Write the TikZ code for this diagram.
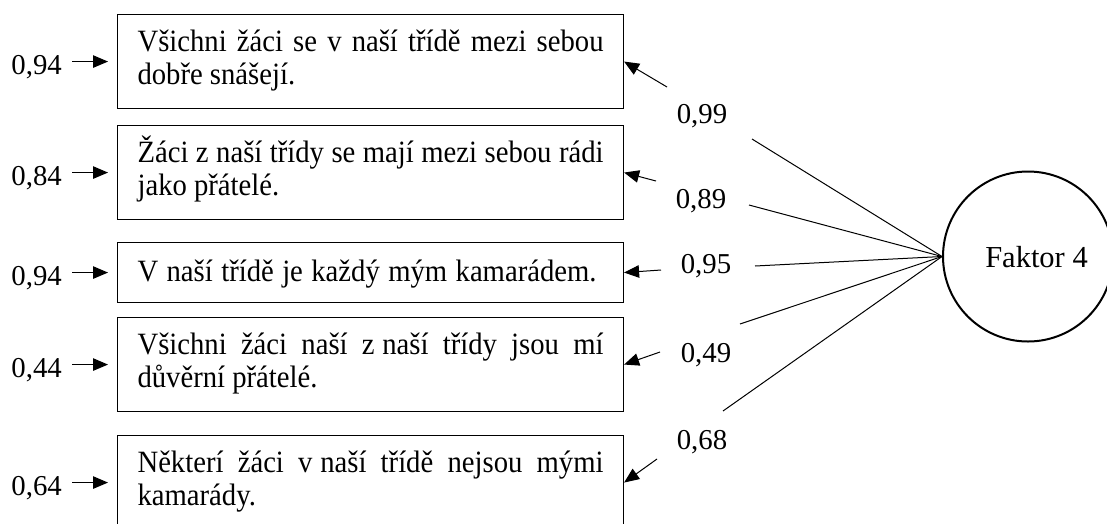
\documentclass[tikz,border=0pt]{standalone}
\usepackage{fontspec}
\setmainfont{Liberation Serif}
\newfontfamily\itemfont[FakeStretch=0.925]{Liberation Serif}
\usetikzlibrary{arrows.meta}
% a line whose word spaces are spread to the given width
\newcommand\spreadline[2][466pt]{\makebox[#1][s]{#2}}

\begin{document}
\begin{tikzpicture}[x=1pt, y=-1pt,
  every node/.style={font=\fontsize{28.8}{33}\selectfont},
  itembox/.style={draw, line width=1.1pt, anchor=north west, inner ysep=0pt,
    inner xsep=20pt, text width=466pt, minimum height=94pt, align=justify,
    font=\itemfont\fontsize{31}{33}\selectfont, text height=20pt, text depth=40pt},
  load/.style={text height=19.6pt, text depth=0pt, inner sep=0pt},
  arr/.style={line width=1pt, -{Triangle[length=15pt, width=12.5pt]}},
  link/.style={line width=1pt},
  factor/.style={draw, circle, line width=2pt, minimum size=170pt, inner sep=0pt}
]
\clip (0,0) rectangle (1107,523);
\useasboundingbox (0,0) rectangle (1107,523);

% observed items
\node[itembox] (b1) at (117,14)
  {\spreadline{Všichni žáci se v naší třídě mezi sebou}\\dobře snášejí.};
\node[itembox] (b2) at (117,125)
  {\spreadline{Žáci z naší třídy se mají mezi sebou rádi}\\jako přátelé.};
\node[itembox, minimum height=60pt, text height=25pt, text depth=7pt] (b3) at (117,242)
  {\spreadline[459pt]{V naší třídě je každý mým kamarádem.}};
\node[itembox] (b4) at (117,317)
  {\spreadline{Všichni žáci naší z\hspace{0.25em}naší třídy jsou mí}\\důvěrní přátelé.};
\node[itembox] (b5) at (117,435)
  {\spreadline{Některí žáci v\hspace{0.25em}naší třídě nejsou mými}\\kamarády.};

% error terms on the left
\foreach \i/\v in {1/0{,}94, 2/0{,}84, 3/0{,}94, 4/0{,}44, 5/0{,}64} {
  \node[load, anchor=east] (e\i) at ([xshift=-55pt, yshift=-3pt]b\i.west) {\v};
  \draw[arr] ([xshift=-45pt]b\i.west) -- ([xshift=-9pt]b\i.west);
}

% latent factor
\node[factor] (f) at (1028,256.5) {};
\node[load, font=\fontsize{30.5}{33}\selectfont, text height=20.7pt] (fl) at (1036.5,257) {Faktor 4};

% loadings
\node[load] (l1) at (702,114) {0,99};
\node[load] (l2) at (701,199) {0,89};
\node[load] (l3) at (706,264) {0,95};
\node[load] (l4) at (706,353) {0,49};
\node[load] (l5) at (702,440) {0,68};

% arrow tails near the boxes
\coordinate (t1) at (667,87);
\coordinate (t2) at (656,181);
\coordinate (t3) at (661,270);
\coordinate (t4) at (660,352);
\coordinate (t5) at (657,459);

% line ends next to the loadings
\coordinate (s1) at (752,139);
\coordinate (s2) at (749,205);
\coordinate (s3) at (755,266);
\coordinate (s4) at (740,324);
\coordinate (s5) at (723,411);

\foreach \i in {1,...,5} {
  \draw[arr] (t\i) -- (b\i.east);
  \draw[link] (f.west) -- (s\i);
}
\end{tikzpicture}
\end{document}
